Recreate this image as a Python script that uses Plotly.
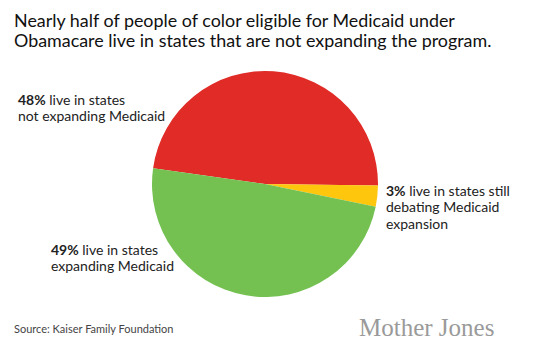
import plotly.graph_objects as go

W, H = 541, 354

labels = ["Not expanding Medicaid", "Still debating", "Expanding Medicaid"]
values = [48, 3, 49]
colors = ["#e02b27", "#fec60c", "#74c152"]

title_lines = ["Nearly half of people of color eligible for Medicaid under",
               "Obamacare live in states that are not expanding the program."]
label_not = ["<b>48%</b> live in states", "not expanding Medicaid"]
label_exp = ["<b>49%</b> live in states", "expanding Medicaid"]
label_deb = ["<b>3%</b> live in states still", "debating Medicaid", "expansion"]
source = "Source: Kaiser Family Foundation"
brand = "Mother Jones"

cx, cy, r = 265, 184, 113

fig = go.Figure(go.Pie(
    labels=labels, values=values, sort=False, direction="clockwise",
    rotation=-82, marker=dict(colors=colors, line=dict(width=0)),
    textinfo="none", hoverinfo="label+percent", showlegend=False,
    domain=dict(x=[(cx - r) / W, (cx + r) / W], y=[(H - cy - r) / H, (H - cy + r) / H]),
))

def px(x, y):
    return x / W, 1 - y / H

anns = []
def add(text, x, y, size, color="#222", family="Lato", anchor="left"):
    ax, ay = px(x, y)
    anns.append(dict(text=text, x=ax, y=ay, xref="paper", yref="paper",
                     xanchor=anchor, yanchor="middle", showarrow=False,
                     font=dict(size=size, color=color, family=family)))

for i, t in enumerate(title_lines):
    add(t, 12, 20 + i * 19.5, 17.9, "#111")
for i, t in enumerate(label_not):
    add(t, 16, 99.5 + i * 16, 14)
for i, t in enumerate(label_exp):
    add(t, 49, 249.5 + i * 16, 14)
for i, t in enumerate(label_deb):
    add(t, 384, 190 + i * 16.5, 14)
add(source, 12, 328, 11, "#444")
add(brand, 357, 327, 25, "#9a9a9a", "Liberation Serif")

fig.update_layout(width=W, height=H, margin=dict(l=0, r=0, t=0, b=0),
                  paper_bgcolor="white", plot_bgcolor="white", annotations=anns)
fig.write_html("out.html")
